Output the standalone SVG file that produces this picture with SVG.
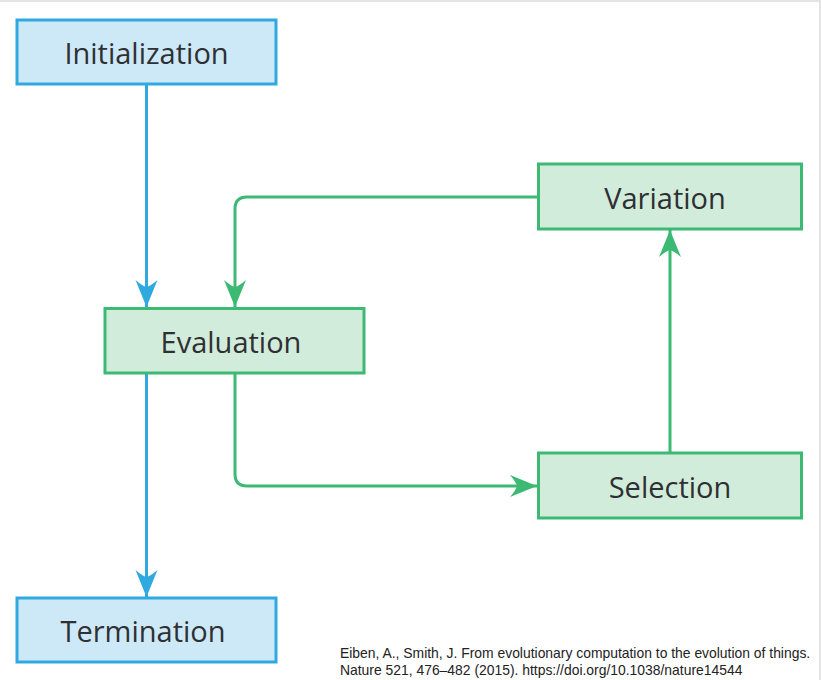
<svg xmlns="http://www.w3.org/2000/svg" width="821" height="680" viewBox="0 0 821 680">
<style>
.bg{fill:#ffffff}
.edge{fill:#e4e4e4}
.blue rect{fill:#cde9f8;stroke:#2fa9e0;stroke-width:3}
.green rect{fill:#d2ecdb;stroke:#3cba74;stroke-width:3}
.lbl{font-family:"Open Sans","Noto Sans",sans-serif;font-size:29px;fill:#2e3033;text-anchor:middle}
.cb{fill:none;stroke:#2fa9e0;stroke-width:3}
.cg{fill:none;stroke:#3cba74;stroke-width:3}
.cite{font-family:"Liberation Sans",Arial,sans-serif;font-size:13.9px;fill:#222}
</style>
<defs>
<marker id="ab" markerUnits="userSpaceOnUse" markerWidth="30" markerHeight="26" viewBox="-28 -13 29 26" refX="0" refY="0" orient="auto">
<path d="M0,0 L-27,-11 Q-21,-4 -20,0 Q-21,4 -27,11 Z" fill="#2fa9e0"/>
</marker>
<marker id="ag" markerUnits="userSpaceOnUse" markerWidth="30" markerHeight="26" viewBox="-28 -13 29 26" refX="0" refY="0" orient="auto">
<path d="M0,0 L-27,-11 Q-21,-4 -20,0 Q-21,4 -27,11 Z" fill="#3cba74"/>
</marker>
</defs>
<rect class="bg" x="0" y="0" width="821" height="680"/>
<rect class="edge" x="0" y="0" width="821" height="2"/>
<rect class="edge" x="819" y="0" width="2" height="680"/>
<g id="connectors">
<path class="cb" d="M146.5,84 L146.5,307" marker-end="url(#ab)"/>
<path class="cb" d="M146.5,373 L146.5,597" marker-end="url(#ab)"/>
<path class="cg" d="M538,197 L247,197 Q235,197 235,209 L235,307" marker-end="url(#ag)"/>
<path class="cg" d="M235,373 L235,474 Q235,486 247,486 L537,486" marker-end="url(#ag)"/>
<path class="cg" d="M670,453 L670,230" marker-end="url(#ag)"/>
</g>
<g id="initialization" class="blue">
<rect x="17" y="20" width="259" height="64"/>
<text class="lbl" x="146.5" y="64">Initialization</text>
</g>
<g id="evaluation" class="green">
<rect x="105" y="308.5" width="259" height="64.5"/>
<text class="lbl" x="231" y="353">Evaluation</text>
</g>
<g id="termination" class="blue">
<rect x="17" y="598" width="259" height="64"/>
<text class="lbl" x="143" y="642">Termination</text>
</g>
<g id="variation" class="green">
<rect x="538.5" y="164" width="263" height="65"/>
<text class="lbl" x="665" y="209">Variation</text>
</g>
<g id="selection" class="green">
<rect x="538.5" y="453" width="263" height="65"/>
<text class="lbl" x="670" y="498">Selection</text>
</g>
<g id="citation">
<text class="cite" x="340" y="658">Eiben, A., Smith, J. From evolutionary computation to the evolution of things.</text>
<text class="cite" x="340" y="675">Nature 521, 476–482 (2015). https://doi.org/10.1038/nature14544</text>
</g>
</svg>
